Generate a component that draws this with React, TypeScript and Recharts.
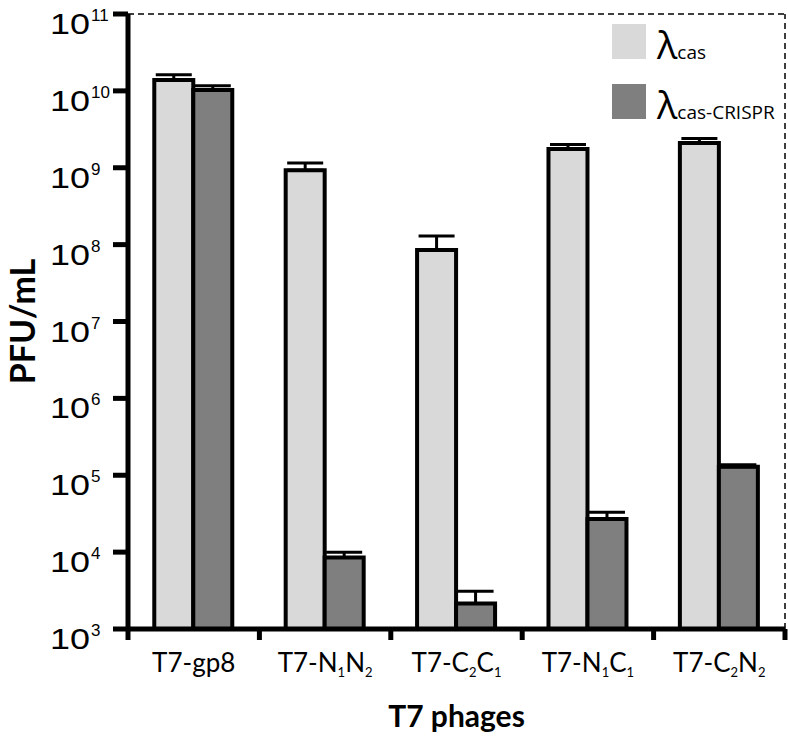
import * as React from "react"
import { Bar, BarChart, ErrorBar, Legend, ReferenceLine, XAxis, YAxis } from "recharts"

const categories = ["T7-gp8", "T7-N1N2", "T7-C2C1", "T7-N1C1", "T7-C2N2"]
const casValues = [1.38e10, 9.3e8, 8.5e7, 1.75e9, 2.1e9]
const casErrors = [2.4e9, 2.2e8, 4.4e7, 2.5e8, 3e8]
const crisprValues = [1.03e10, 8.5e3, 2.15e3, 2.7e4, 1.29e5]
const crisprErrors = [1.4e9, 1.5e3, 9.5e2, 6e3, 8e3]
const yTicks = [1e3, 1e4, 1e5, 1e6, 1e7, 1e8, 1e9, 1e10, 1e11]

const LIGHT = "#d9d9d9"
const DARK = "#7f7f7f"
const SANS = "Lato, 'Open Sans', sans-serif"

const data = categories.map((name, i) => ({
  name,
  cas: casValues[i],
  casErr: [0, casErrors[i]],
  crispr: crisprValues[i],
  crisprErr: [0, crisprErrors[i]],
}))

// split "T7-N1N2" into normal text and subscript digits
function labelParts(name: string) {
  const parts: { text: string; sub: boolean }[] = []
  const re = /([NC])(\d)/g
  let last = 0
  let m
  while ((m = re.exec(name)) !== null) {
    parts.push({ text: name.slice(last, m.index + 1), sub: false })
    parts.push({ text: m[2], sub: true })
    last = m.index + 2
  }
  if (last < name.length) parts.push({ text: name.slice(last), sub: false })
  return parts
}

function XTick(props: any) {
  const { x, y, payload, index, width, visibleTicksCount } = props
  const half = width / visibleTicksCount / 2
  const axisY = y - 10
  const parts = labelParts(payload.value)
  return (
    <g>
      <line x1={x - half} x2={x - half} y1={axisY} y2={axisY + 11} stroke="#000" strokeWidth={5} />
      {index === visibleTicksCount - 1 && (
        <line x1={x + half} x2={x + half} y1={axisY} y2={axisY + 11} stroke="#000" strokeWidth={5} />
      )}
      <text x={x} y={axisY + 43} textAnchor="middle" fontFamily={SANS} fontSize={26} fill="#000">
        {parts.map((p, i) =>
          p.sub ? (
            <tspan key={i} fontSize={13} dy={5}>{p.text}</tspan>
          ) : (
            <tspan key={i} dy={i > 0 && parts[i - 1].sub ? -5 : 0}>{p.text}</tspan>
          )
        )}
      </text>
    </g>
  )
}

function YTick(props: any) {
  const { x, y, payload } = props
  const exp = Math.round(Math.log10(payload.value))
  return (
    <g fill="#000">
      <text x={x - 61} y={y + 20} fontFamily="'Liberation Sans', Arial, sans-serif" fontWeight="normal"
        fontSize={30} textLength={40} lengthAdjust="spacingAndGlyphs">10</text>
      <text x={x - 20} y={y + 7} fontFamily="'Liberation Sans', Arial, sans-serif" fontWeight="normal"
        fontSize={17}>{exp}</text>
    </g>
  )
}

function YLabel(props: any) {
  const { viewBox } = props
  const cx = viewBox.x + 35
  const cy = viewBox.y + viewBox.height / 2
  return (
    <text x={cx} y={cy} transform={`rotate(-90, ${cx}, ${cy})`} textAnchor="middle"
      fontFamily={SANS} fontWeight="bold" fontSize={34} fill="#000">
      PFU/mL
    </text>
  )
}

function XLabel(props: any) {
  const { viewBox } = props
  return (
    <text x={viewBox.x + viewBox.width / 2} y={viewBox.y + 98} textAnchor="middle"
      fontFamily={SANS} fontWeight="bold" fontSize={30} fill="#000">
      T7 phages
    </text>
  )
}

function LegendContent() {
  const items = [
    { color: LIGHT, sub: "cas" },
    { color: DARK, sub: "cas-CRISPR" },
  ]
  return (
    <svg width={170} height={120} style={{ display: "block", overflow: "visible" }}>
      {items.map((it, i) => (
        <g key={i}>
          <rect x={0} y={10 + i * 60} width={34} height={35} fill={it.color} />
          <text x={45} y={45 + i * 60} fontFamily="'Open Sans', sans-serif" fill="#000">
            <tspan fontSize={38}>λ</tspan>
            <tspan fontSize={19}>{it.sub}</tspan>
          </text>
        </g>
      ))}
    </svg>
  )
}

export default function App() {
  return (
    <div style={{ position: "absolute", left: 0, top: 0, width: 788, height: 740, background: "#fff" }}>
      <BarChart
        width={788}
        height={740}
        data={data}
        margin={{ top: 14, right: 3, left: 0, bottom: 0 }}
        barCategoryGap="20%"
        barGap={0}
      >
        <ReferenceLine y={1e11} stroke="#000" strokeWidth={1.5} strokeDasharray="6 4" />
        <ReferenceLine x="T7-C2N2" position="end" stroke="#000" strokeWidth={1.5} strokeDasharray="6 4" />
        <XAxis
          dataKey="name"
          height={111}
          interval={0}
          tickSize={10}
          tickMargin={0}
          tickLine={false}
          axisLine={{ stroke: "#000", strokeWidth: 5 }}
          tick={<XTick />}
          label={(p: any) => <XLabel {...p} />}
        />
        <YAxis
          scale="log"
          domain={[1e3, 1e11]}
          allowDataOverflow
          ticks={yTicks}
          interval={0}
          width={128}
          tickSize={15}
          tickMargin={2}
          axisLine={{ stroke: "#000", strokeWidth: 5 }}
          tickLine={{ stroke: "#000", strokeWidth: 5 }}
          tick={<YTick />}
          label={(p: any) => <YLabel {...p} />}
        />
        <Legend
          layout="vertical"
          align="center"
          verticalAlign="middle"
          content={<LegendContent />}
          wrapperStyle={{ left: 612, top: 14, width: 170, height: 120 }}
        />
        <Bar dataKey="cas" fill={LIGHT} stroke="#000" strokeWidth={4} isAnimationActive={false}>
          <ErrorBar dataKey="casErr" direction="y" width={18} stroke="#000" strokeWidth={3} isAnimationActive={false} />
        </Bar>
        <Bar dataKey="crispr" fill={DARK} stroke="#000" strokeWidth={4} isAnimationActive={false}>
          <ErrorBar dataKey="crisprErr" direction="y" width={18} stroke="#000" strokeWidth={3} isAnimationActive={false} />
        </Bar>
      </BarChart>
    </div>
  )
}
